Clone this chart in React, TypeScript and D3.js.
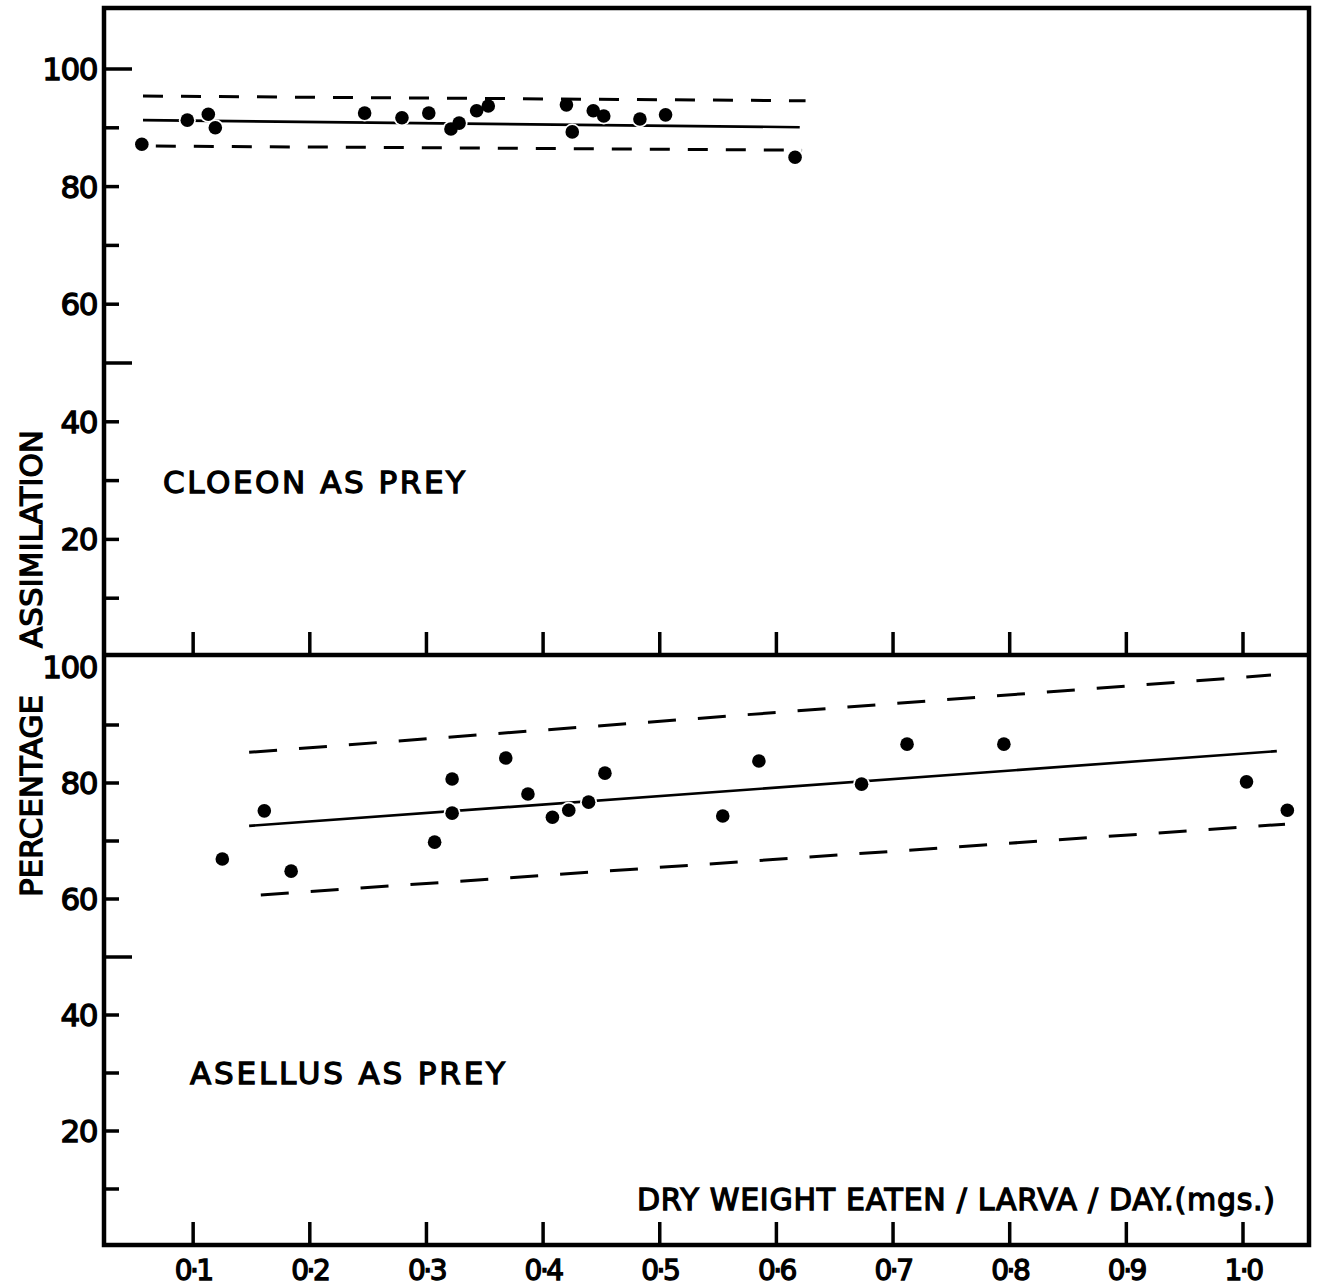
import React from "react";
import * as d3 from "d3";

// ---- data ----
const cloeonX = [0.056, 0.095, 0.113, 0.119, 0.247, 0.279, 0.302, 0.321, 0.328, 0.343, 0.353, 0.42, 0.425, 0.443, 0.452, 0.483, 0.505, 0.616];
const cloeonY = [87.2, 91.3, 92.3, 90.0, 92.5, 91.7, 92.5, 89.8, 90.8, 92.9, 93.7, 93.9, 89.3, 92.9, 92.0, 91.5, 92.2, 85.0];

const asellusX = [0.125, 0.161, 0.184, 0.307, 0.322, 0.322, 0.368, 0.387, 0.408, 0.422, 0.439, 0.453, 0.554, 0.585, 0.673, 0.712, 0.795, 1.003, 1.038];
const asellusY = [66.9, 75.2, 64.8, 69.8, 80.7, 74.8, 84.3, 78.1, 74.1, 75.3, 76.7, 81.7, 74.3, 83.8, 79.8, 86.7, 86.7, 80.2, 75.3];

// regression line and limits (end points)
const cloeonMeanX = [0.057, 0.62];
const cloeonMeanY = [91.3, 90.1];
const cloeonUpperX = [0.057, 0.625];
const cloeonUpperY = [95.4, 94.6];
const cloeonLowerX = [0.068, 0.622];
const cloeonLowerY = [86.9, 86.2];

const asellusMeanX = [0.148, 1.029];
const asellusMeanY = [72.6, 85.5];
const asellusUpperX = [0.148, 1.024];
const asellusUpperY = [85.3, 98.6];
const asellusLowerX = [0.158, 1.036];
const asellusLowerY = [60.7, 72.9];

const xTickValues = [0.1, 0.2, 0.3, 0.4, 0.5, 0.6, 0.7, 0.8, 0.9, 1.0];
const yTickValues = [10, 20, 30, 40, 50, 60, 70, 80, 90, 100];
const yLabelValues = [20, 40, 60, 80, 100];

const panelLabels = ["CLOEON AS PREY", "ASELLUS AS PREY"];
const xAxisTitle = "DRY WEIGHT  EATEN / LARVA / DAY.(mgs.)";
const yTitleWords = ["PERCENTAGE", "ASSIMILATION"];

// ---- layout ----
const W = 1322;
const H = 1288;
const FL = 104, FR = 1309, FT = 8, DIV = 655, FB = 1245;
const FONT = "'DejaVu Sans', sans-serif";
const TS = 1.3; // text stroke for a heavier lettering look

const x = d3.scaleLinear().domain([0, 1]).range([76.5, 1243]);
const yTop = d3.scaleLinear().domain([0, 100]).range([657, 69]);
const yBot = d3.scaleLinear().domain([0, 100]).range([1247, 667]);

const fmtX = (v: number) => d3.format(".1f")(v).replace(".", "·");

function pts(xs: number[], ys: number[]) {
  return xs.map((v, i) => [v, ys[i]] as [number, number]);
}

function Panel({ id, xs, ys, meanX, meanY, upX, upY, loX, loY, y, dash, label, labelX, labelW, labelBase, axisY, showTop100 }: any) {
  const line = d3.line<[number, number]>().x((d) => x(d[0])).y((d) => y(d[1]));
  const dots = pts(xs, ys);
  return (
    <g>
      <defs>
        <mask id={`m-${id}`} maskUnits="userSpaceOnUse" x={0} y={0} width={W} height={H}>
          <rect x={0} y={0} width={W} height={H} fill="#fff" />
          {dots.map((d, i) => (
            <circle key={i} cx={x(d[0])} cy={y(d[1])} r={8.5} fill="#000" />
          ))}
        </mask>
      </defs>
      <path d={line(pts(upX, upY)) || ""} fill="none" stroke="#000" strokeWidth={3} strokeDasharray={dash} />
      <path d={line(pts(loX, loY)) || ""} fill="none" stroke="#000" strokeWidth={3} strokeDasharray={dash} />
      <path d={line(pts(meanX, meanY)) || ""} fill="none" stroke="#000" strokeWidth={2.6} mask={`url(#m-${id})`} />
      {dots.map((d, i) => (
        <circle key={i} cx={x(d[0])} cy={y(d[1])} r={6.8} fill="#000" />
      ))}
      {yTickValues
        .filter((v) => showTop100 || v < 100)
        .map((v) => (
          <line key={v} x1={FL} x2={FL + (v === 50 || v === 100 ? 28 : 15)} y1={y(v)} y2={y(v)} stroke="#000" strokeWidth={3.5} />
        ))}
      {yLabelValues.map((v) => (
        <text key={v} x={97} y={y(v) + 11} textAnchor="end" fontFamily={FONT} fontSize={31} stroke="#000" strokeWidth={TS} letterSpacing={-1.5}>
          {v}
        </text>
      ))}
      {xTickValues.map((v) => (
        <line key={v} x1={x(v)} x2={x(v)} y1={axisY} y2={axisY - 23} stroke="#000" strokeWidth={3.5} />
      ))}
      <text x={labelX} y={labelBase} fontFamily={FONT} fontSize={31} textLength={labelW} lengthAdjust="spacing" stroke="#000" strokeWidth={TS}>
        {label}
      </text>
    </g>
  );
}

export default function App() {
  return (
    <svg width={W} height={H} style={{ position: "absolute", left: 0, top: 0, background: "#fff" }}>
      <rect x={0} y={0} width={W} height={H} fill="#fff" />
      <Panel
        id="top"
        xs={cloeonX}
        ys={cloeonY}
        meanX={cloeonMeanX}
        meanY={cloeonMeanY}
        upX={cloeonUpperX}
        upY={cloeonUpperY}
        loX={cloeonLowerX}
        loY={cloeonLowerY}
        y={yTop}
        dash="20,18"
        label={panelLabels[0]}
        labelX={163}
        labelW={302}
        labelBase={493}
        axisY={DIV}
        showTop100={true}
      />
      <Panel
        id="bot"
        xs={asellusX}
        ys={asellusY}
        meanX={asellusMeanX}
        meanY={asellusMeanY}
        upX={asellusUpperX}
        upY={asellusUpperY}
        loX={asellusLowerX}
        loY={asellusLowerY}
        y={yBot}
        dash="28,22"
        label={panelLabels[1]}
        labelX={190}
        labelW={315}
        labelBase={1084}
        axisY={FB}
        showTop100={false}
      />
      <rect x={FL} y={FT} width={FR - FL} height={FB - FT} fill="none" stroke="#000" strokeWidth={4.5} />
      <line x1={FL} x2={FR} y1={DIV} y2={DIV} stroke="#000" strokeWidth={4.5} />
      {xTickValues.map((v) => (
        <text key={v} x={x(v)} y={1280} textAnchor="middle" fontFamily={FONT} fontSize={28} stroke="#000" strokeWidth={TS} letterSpacing={-2.5}>
          {fmtX(v)}
        </text>
      ))}
      <text x={637} y={1210} fontFamily={FONT} fontSize={30} textLength={638} lengthAdjust="spacing" stroke="#000" strokeWidth={TS}>
        {xAxisTitle}
      </text>
      <text transform="translate(42,796) rotate(-90)" textAnchor="middle" fontFamily={FONT} fontSize={31} textLength={202} lengthAdjust="spacing" stroke="#000" strokeWidth={TS}>
        {yTitleWords[0]}
      </text>
      <text transform="translate(42,539) rotate(-90)" textAnchor="middle" fontFamily={FONT} fontSize={31} textLength={218} lengthAdjust="spacing" stroke="#000" strokeWidth={TS}>
        {yTitleWords[1]}
      </text>
    </svg>
  );
}
